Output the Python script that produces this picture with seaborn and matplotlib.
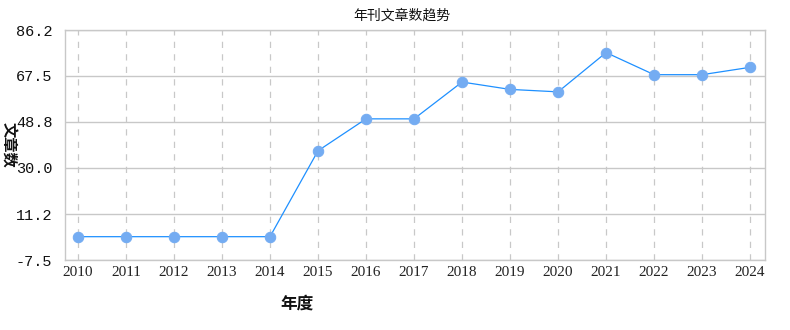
import matplotlib
matplotlib.use("Agg")
import matplotlib.pyplot as plt
import seaborn as sns
import pandas as pd

years = [2010, 2011, 2012, 2013, 2014, 2015, 2016, 2017, 2018, 2019, 2020, 2021, 2022, 2023, 2024]
counts = [2, 2, 2, 2, 2, 37, 50, 50, 65, 62, 61, 77, 68, 68, 71]
y_ticks = [-7.5, 11.2, 30.0, 48.8, 67.5, 86.2]
y_tick_labels = ["-7.5", "11.2", "30.0", "48.8", "67.5", "86.2"]
title = "年刊文章数趋势"
x_label = "年度"
y_label = "文章数"

sns.set_style("white")
plt.rcParams['font.family'] = ['Noto Sans CJK SC', 'DejaVu Sans']

df = pd.DataFrame({"year": years, "count": counts})

fig = plt.figure(figsize=(7.9, 3.3), dpi=100)
ax = fig.add_axes([65/790, 70/330, 700/790, 230/330])

sns.lineplot(data=df, x="year", y="count", ax=ax, color="#1e90ff", linewidth=0.9,
             marker="o", markersize=7.5, markerfacecolor="#74acf2", markeredgecolor="#74acf2",
             zorder=3)

ax.set_xlim(2009.73, 2024.31)
ax.set_ylim(-7.5, 86.2)
ax.set_xticks(years)
ax.set_xticklabels([str(y) for y in years], family="Liberation Serif", fontsize=11, color="#222222")
ax.set_yticks(y_ticks)
ax.set_yticklabels(y_tick_labels, family="Liberation Mono", fontsize=11, color="#111111")
ax.tick_params(axis="both", length=0)
ax.tick_params(axis="x", pad=4)
ax.tick_params(axis="y", pad=9)

for yr in years:
    ax.axvline(yr, color="#c8c8c8", linestyle=(0, (5, 5)), linewidth=0.9, zorder=1)
for yt in y_ticks:
    ax.axhline(yt, color="#c8c8c8", linewidth=1.0, zorder=1)

for side in ["left", "bottom", "right", "top"]:
    ax.spines[side].set_color("#c8c8c8")
    ax.spines[side].set_linewidth(1.0)

ax.set_xlabel("")
ax.set_ylabel("")
fig.text(402/790, 1 - 16/330, title, ha="center", va="center", fontsize=10, color="#111111")
fig.text(297/790, 1 - 304/330, x_label, ha="center", va="center", fontsize=12, color="#111111", fontweight="bold")
fig.text(8/790, 1 - 145/330, y_label, ha="center", va="center", fontsize=11, color="#111111",
         rotation=-90, fontweight="bold")

fig.savefig("out.png", dpi=100, facecolor="white")
